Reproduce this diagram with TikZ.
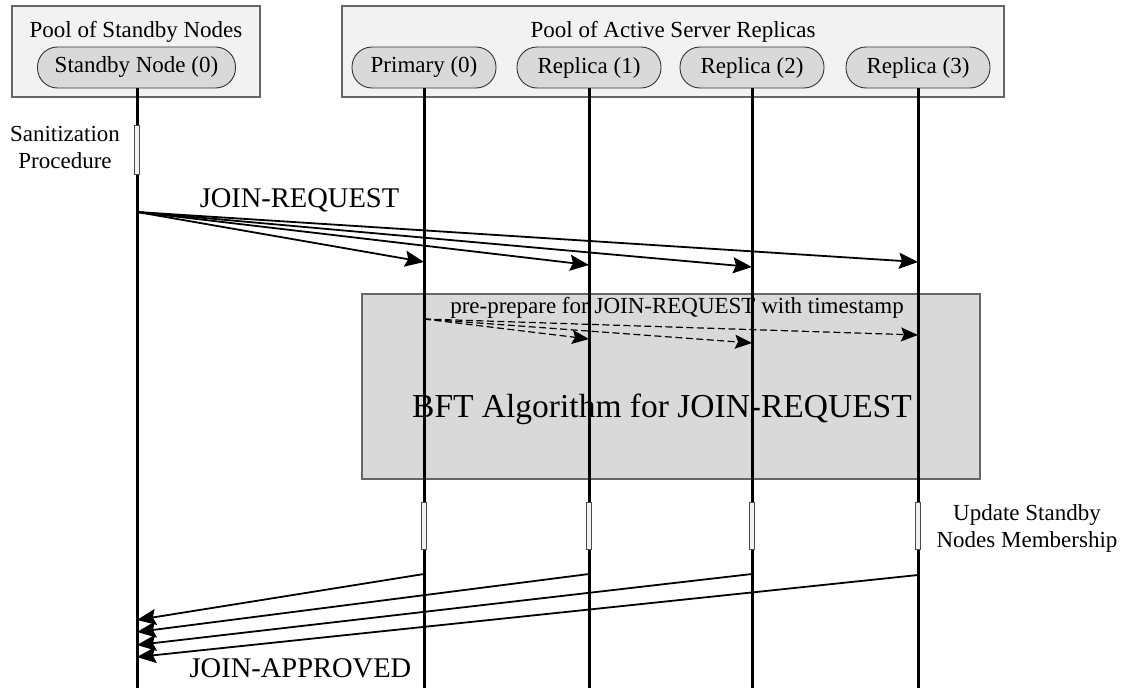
\documentclass[tikz,border=0pt]{standalone}
\usepackage{fontspec}
\setmainfont{Liberation Serif}
\usetikzlibrary{arrows.meta}

\definecolor{poolfill}{gray}{0.95}
\definecolor{procfill}{gray}{0.85}
\definecolor{edgegray}{gray}{0.4}

\newcommand\lblfont{\fontsize{23}{26.5}\selectfont}
\newcommand\msgfont{\fontsize{28.5}{32}\selectfont}
\newcommand\bigfont{\fontsize{33.5}{38}\selectfont}

\begin{document}
\begin{tikzpicture}[x=1pt,y=-1pt,
  pool/.style={draw=edgegray, fill=poolfill, line width=1.2pt},
  phase/.style={draw=edgegray, fill=procfill, line width=1.2pt},
  actor/.style={draw=black!80, fill=procfill, rounded corners=20pt,
    minimum height=41pt, line width=0.9pt, inner sep=0pt, font=\lblfont},
  lifeline/.style={line width=3pt},
  actbox/.style={draw=black!70, fill=poolfill, line width=0.8pt,
    minimum width=5.5pt, minimum height=47pt, inner sep=0pt},
  msg/.style={line width=1.8pt, -{Stealth[length=19pt,width=16pt,inset=3pt]}},
  prep/.style={line width=1.2pt, dash pattern=on 7pt off 3.5pt,
    -{Stealth[length=17pt,width=14pt,inset=3pt]}},
  lbl/.style={font=\lblfont, inner sep=0pt, align=center},
]
\useasboundingbox (0,0) rectangle (1128,688);
\fill[white] (0,0) rectangle (1128,688);

% pools of participants
\draw[pool] (12,6) rectangle (260,97);
\draw[pool] (342,6) rectangle (1004,97);
\node[lbl, anchor=base] (poolS) at (136,37) {Pool of Standby Nodes};
\node[lbl, anchor=base] (poolA) at (673,37) {Pool of Active Server Replicas};

\node[actor, minimum width=198pt] (sb) at (136.5,67.5) {Standby Node (0)};
\node[actor, minimum width=144pt] (p0) at (424,67.5) {Primary (0)};
\node[actor, minimum width=144pt] (r1) at (589,67.5) {Replica (1)};
\node[actor, minimum width=144pt] (r2) at (752,67.5) {Replica (2)};
\node[actor, minimum width=144pt] (r3) at (918,67.5) {Replica (3)};

% agreement phase
\draw[phase] (362,294) rectangle (980,479);
\node[lbl, anchor=base] (prepT) at (677,313) {pre-prepare for JOIN-REQUEST with timestamp};
\node[font=\bigfont, inner sep=0pt, anchor=base] (bft) at (662,417) {BFT Algorithm for JOIN-REQUEST};

% lifelines
\coordinate (sbEnd) at (137,688);
\coordinate (p0End) at (424,688);
\coordinate (r1End) at (589,688);
\coordinate (r2End) at (752,688);
\coordinate (r3End) at (918,688);
\draw[lifeline] (sb.south -| sbEnd) -- (sbEnd);
\draw[lifeline] (p0.south) -- (p0End);
\draw[lifeline] (r1.south) -- (r1End);
\draw[lifeline] (r2.south) -- (r2End);
\draw[lifeline] (r3.south) -- (r3End);

% local procedures (base anchor sits on the last line)
\node[actbox, minimum height=49pt] (san) at (137,149.5) {};
\node[lbl, anchor=base] (sanT) at (65,168) {Sanitization\\Procedure};
\node[actbox] (u0) at (424,525.5) {};
\node[actbox] (u1) at (589,525.5) {};
\node[actbox] (u2) at (752,525.5) {};
\node[actbox] (u3) at (918,525.5) {};
\node[lbl, anchor=base] (updT) at (1027,547) {Update Standby\\Nodes Membership};

% join request broadcast
\coordinate (jrS) at (137,212);
\coordinate (jr0) at (424,262);
\coordinate (jr1) at (589,265);
\coordinate (jr2) at (752,267);
\coordinate (jr3) at (918,262);
\node[font=\msgfont, inner sep=0pt, anchor=base] (jrT) at (299.5,207) {JOIN-REQUEST};
\draw[msg] (jrS) -- (jr0);
\draw[msg] (jrS) -- (jr1);
\draw[msg] (jrS) -- (jr2);
\draw[msg] (jrS) -- (jr3);

% pre-prepare from the primary
\coordinate (ppS) at (424,319);
\coordinate (pp1) at (589,339);
\coordinate (pp2) at (752,343);
\coordinate (pp3) at (918,335);
\draw[prep] (ppS) -- (pp1);
\draw[prep] (ppS) -- (pp2);
\draw[prep] (ppS) -- (pp3);

% approvals back to the standby node
\coordinate (ap0) at (424,574);
\coordinate (ap1) at (589,574);
\coordinate (ap2) at (752,574);
\coordinate (ap3) at (918,575);
\coordinate (at0) at (137,620);
\coordinate (at1) at (137,632);
\coordinate (at2) at (137,645);
\coordinate (at3) at (137,657);
\draw[msg] (ap0) -- (at0);
\draw[msg] (ap1) -- (at1);
\draw[msg] (ap2) -- (at2);
\draw[msg] (ap3) -- (at3);
\node[font=\msgfont, inner sep=0pt, anchor=base] (jaT) at (300.5,677) {JOIN-APPROVED};
\end{tikzpicture}
\end{document}
